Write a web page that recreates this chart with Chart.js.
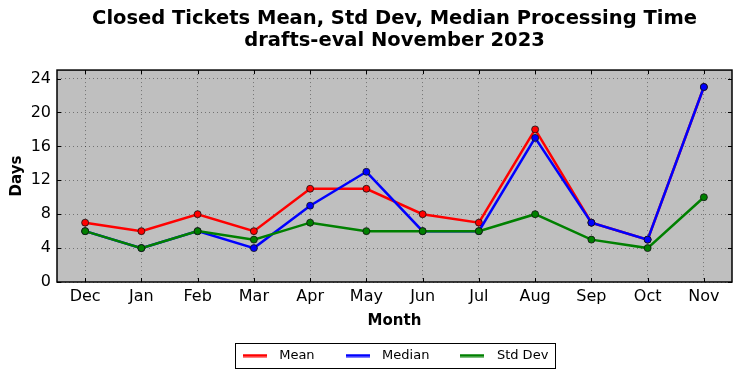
<!DOCTYPE html>
<html>
<head>
<meta charset="utf-8">
<script src="https://cdn.jsdelivr.net/npm/chart.js@4.4.0/dist/chart.umd.min.js"></script>
<style>
html,body{margin:0;padding:0;background:#fff;}
#wrap{width:742px;height:378px;position:relative;}
</style>
</head>
<body>
<div id="wrap"><canvas id="c" width="742" height="378"></canvas></div>
<script>
const months = ["Dec","Jan","Feb","Mar","Apr","May","Jun","Jul","Aug","Sep","Oct","Nov"];
const meanValues = [7,6,8,6,11,11,8,7,18,7,5,23];
const medianValues = [6,4,6,4,9,13,6,6,17,7,5,23];
const stdDevValues = [6,4,6,5,7,6,6,6,8,5,4,10];
const yTicks = [0,4,8,12,16,20,24];
const titleLines = ["Closed Tickets Mean, Std Dev, Median Processing Time","drafts-eval November 2023"];

const FONT = "'DejaVu Sans', sans-serif";

function lineSample(color) {
  const c = document.createElement('canvas');
  c.width = 24; c.height = 4;
  const g = c.getContext('2d');
  g.fillStyle = color;
  g.fillRect(0, 0.5, 24, 3);
  return c;
}

const innerTicks = {
  id: 'innerTicks',
  afterDatasetsDraw(chart) {
    const {ctx, chartArea: a, scales} = chart;
    ctx.save();
    ctx.strokeStyle = '#000';
    ctx.lineWidth = 1;
    const L = 4;
    scales.x.ticks.forEach((t, i) => {
      const px = Math.round(scales.x.getPixelForTick(i)) + 0.5;
      ctx.beginPath();
      ctx.moveTo(px, a.bottom); ctx.lineTo(px, a.bottom - L);
      ctx.moveTo(px, a.top); ctx.lineTo(px, a.top + L);
      ctx.stroke();
    });
    scales.y.ticks.forEach((t, i) => {
      const py = Math.round(scales.y.getPixelForTick(i)) + 0.5;
      ctx.beginPath();
      ctx.moveTo(a.left, py); ctx.lineTo(a.left + L, py);
      ctx.moveTo(a.right, py); ctx.lineTo(a.right - L, py);
      ctx.stroke();
    });
    ctx.lineWidth = 1.5;
    ctx.strokeRect(a.left, a.top, a.right - a.left, a.bottom - a.top);
    ctx.restore();
  }
};

const bgPlugin = {
  id: 'plotBg',
  beforeDraw(chart) {
    const {ctx, chartArea: a} = chart;
    ctx.save();
    ctx.fillStyle = '#bfbfbf';
    ctx.fillRect(a.left, a.top, a.right - a.left, a.bottom - a.top);
    ctx.restore();
  }
};

const centerOnPlot = {
  id: 'centerOnPlot',
  afterLayout(chart) {
    const mid = (chart.chartArea.left + chart.chartArea.right) / 2;
    const lg = chart.legend;
    if (lg) {
      const d = mid - 2 - (lg.left + lg.right) / 2;
      lg.left += d; lg.right += d;
      if (lg.legendHitBoxes) lg.legendHitBoxes.forEach(b => { b.left += d; });
    }
    const tt = chart.titleBlock;
    if (tt) {
      const d2 = mid - (tt.left + tt.right) / 2;
      tt.left += d2; tt.right += d2;
    }
  }
};

const legendBox = {
  id: 'legendBox',
  afterDraw(chart) {
    const lg = chart.legend;
    if (!lg || !lg.legendHitBoxes || !lg.legendHitBoxes.length) return;
    const hb = lg.legendHitBoxes;
    const l = Math.min(...hb.map(b => b.left)) - 2;
    const r = Math.max(...hb.map(b => b.left + b.width)) + 6;
    const t = Math.min(...hb.map(b => b.top)) - 6;
    const btm = Math.max(...hb.map(b => b.top + b.height)) + 6;
    const ctx = chart.ctx;
    ctx.save();
    ctx.strokeStyle = '#000';
    ctx.lineWidth = 1;
    ctx.strokeRect(Math.round(l) + 0.5, Math.round(t) + 0.5, Math.round(r - l), Math.round(btm - t));
    ctx.restore();
  }
};

function ds(label, data, color, order) {
  return {
    label, data, order,
    borderColor: color,
    backgroundColor: color,
    borderWidth: 2.5,
    pointRadius: 3.5,
    pointHoverRadius: 3.5,
    pointBorderColor: '#111',
    pointBorderWidth: 0.8,
    pointBackgroundColor: color,
    tension: 0,
    fill: false
  };
}

new Chart(document.getElementById('c'), {
  type: 'line',
  data: {
    labels: months,
    datasets: [
      ds('Mean', meanValues, '#ff0000', 3),
      ds('Median', medianValues, '#0000ff', 2),
      ds('Std Dev', stdDevValues, '#008000', 1)
    ]
  },
  options: {
    responsive: false,
    animation: false,
    events: [],
    layout: { padding: { left: 0, right: 10, top: 0, bottom: 6 } },
    plugins: {
      title: {
        display: true,
        text: titleLines,
        color: '#000',
        font: { family: FONT, size: 19.5, weight: 'bold', lineHeight: 1.13 },
        padding: { top: 8, bottom: 18 }
      },
      legend: {
        display: true,
        position: 'bottom',
        labels: {
          color: '#222',
          font: { family: FONT, size: 13 },
          usePointStyle: true,
          pointStyleWidth: 36,
          padding: 25,
          generateLabels(chart) {
            return chart.data.datasets.map((d, i) => ({
              text: d.label,
              fillStyle: d.borderColor,
              strokeStyle: d.borderColor,
              lineWidth: 0,
              pointStyle: lineSample(d.borderColor),
              datasetIndex: i,
              hidden: false
            }));
          }
        }
      },
      tooltip: { enabled: false }
    },
    scales: {
      x: {
        offset: true,
        grid: { display: true, offset: false, color: 'rgba(0,0,0,0.4)', lineWidth: 1, drawTicks: false },
        border: { display: false, dash: [1, 3] },
        ticks: { color: '#000', font: { family: FONT, size: 16 }, padding: 5, maxRotation: 0, autoSkip: false },
        title: { display: true, text: 'Month', color: '#000', font: { family: FONT, size: 15, weight: 'bold' }, padding: { top: 2, bottom: -6 } },
        afterFit(scale) { scale.height = 42; }
      },
      y: {
        min: 0, max: 25,
        afterBuildTicks(scale) { scale.ticks = yTicks.map(v => ({ value: v })); },
        grid: { display: true, color: 'rgba(0,0,0,0.4)', lineWidth: 1, drawTicks: false },
        border: { display: false, dash: [1, 3] },
        ticks: { color: '#000', font: { family: FONT, size: 16 }, padding: 6 },
        title: { display: true, text: 'Days', color: '#000', font: { family: FONT, size: 15, weight: 'bold' }, padding: { top: 8, bottom: 0 } },
        afterFit(scale) { scale.width = 57; }
      }
    }
  },
  plugins: [bgPlugin, centerOnPlot, innerTicks, legendBox]
});
</script>
</body>
</html>
